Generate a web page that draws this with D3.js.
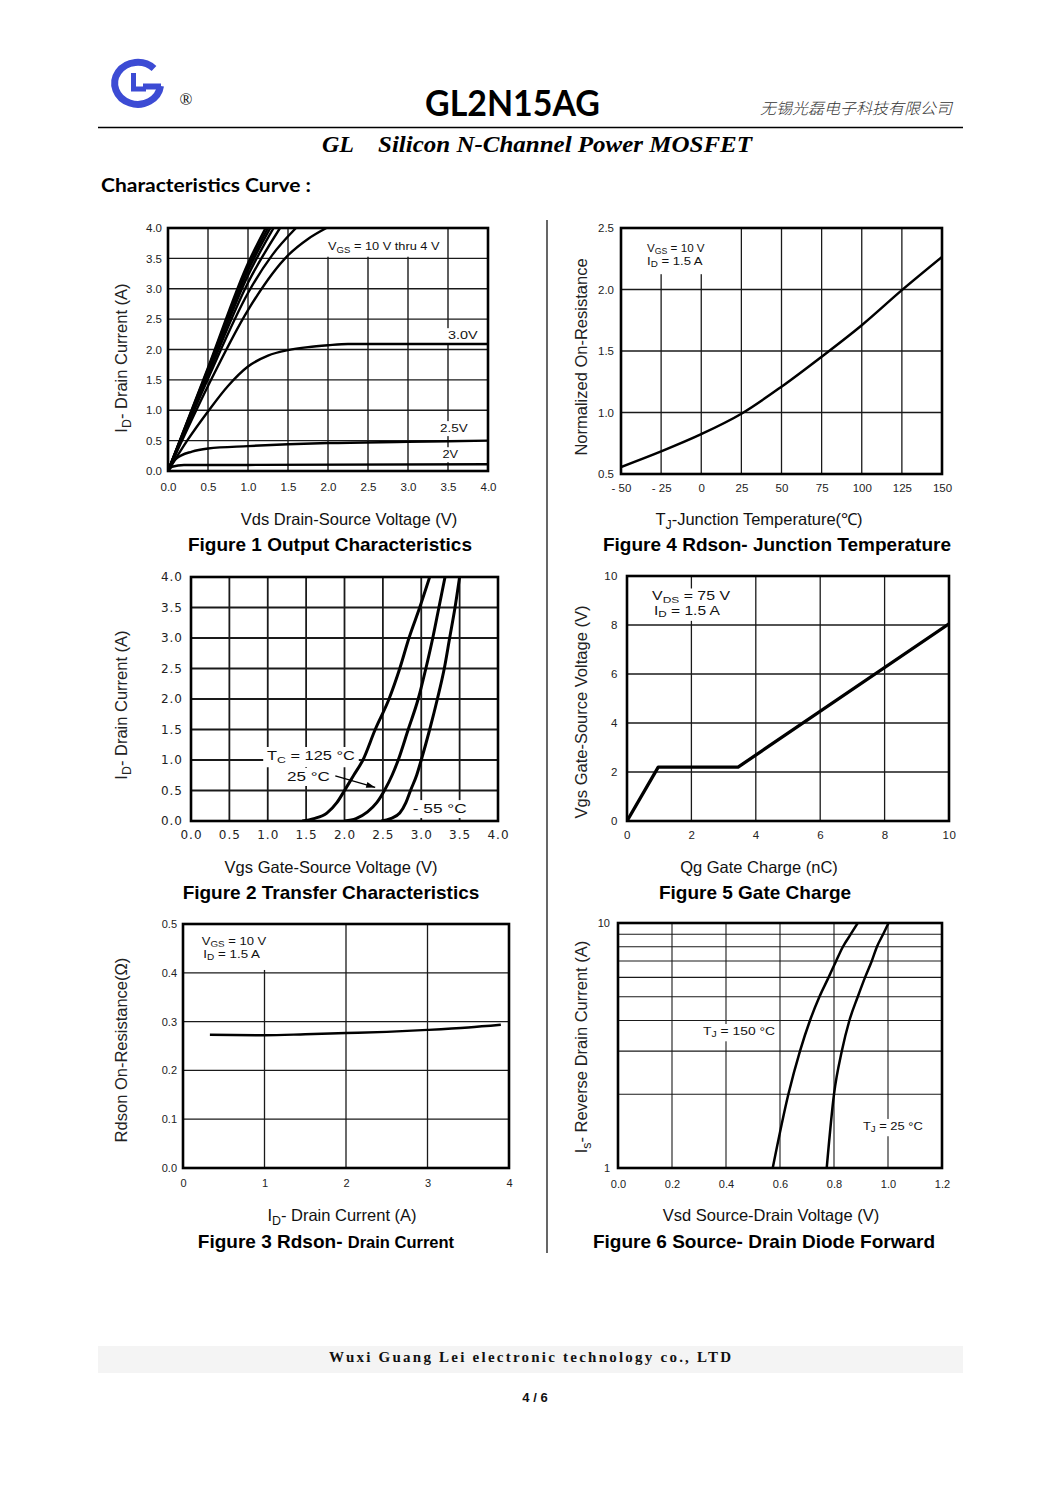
<!DOCTYPE html>
<html><head><meta charset="utf-8">
<script src="https://cdn.jsdelivr.net/npm/d3@7"></script>
<style>body{margin:0;background:#fff}svg{display:block}</style>
</head><body>
<svg id="page" width="1061" height="1500"></svg>
<script>
// ---------------- DATA ----------------
// Figure 1 Output Characteristics (Vds, Id)
const fig1XTicks = [0, 0.5, 1, 1.5, 2, 2.5, 3, 3.5, 4];
const fig1YTicks = [0, 0.5, 1, 1.5, 2, 2.5, 3, 3.5, 4];
const fig1Vgs10 = [[0,0],[0.5,1.7],[1.0,3.42],[1.22,4.0]];
const fig1Vgs9  = [[0,0],[0.5,1.68],[1.0,3.36],[1.25,4.0]];
const fig1Vgs8  = [[0,0],[0.5,1.65],[1.0,3.3],[1.28,4.0]];
const fig1Vgs7  = [[0,0],[0.5,1.62],[1.0,3.22],[1.32,4.0]];
const fig1Vgs6  = [[0,0],[0.5,1.58],[1.0,3.1],[1.4,4.0]];
const fig1Vgs5  = [[0,0],[0.5,1.52],[1.0,2.93],[1.3,3.55],[1.6,4.0]];
const fig1Vgs4  = [[0,0],[0.5,1.4],[1.0,2.65],[1.5,3.55],[1.75,3.82],[1.98,4.0]];
const fig1Vgs3  = [[0,0],[0.25,0.52],[0.5,0.98],[0.75,1.4],[1.0,1.72],[1.25,1.9],[1.5,1.99],[1.75,2.04],[2.0,2.07],[2.25,2.09],[3.0,2.09],[4.0,2.09]];
const fig1Vgs25 = [[0,0],[0.1,0.2],[0.3,0.32],[0.5,0.37],[1.0,0.41],[1.5,0.44],[2.0,0.46],[3.0,0.48],[4.0,0.5]];
const fig1Vgs2  = [[0,0],[0.05,0.07],[0.2,0.1],[1.0,0.1],[4.0,0.11]];

// Figure 4 Rdson vs junction temperature
const fig4XTicks = [-50, -25, 0, 25, 50, 75, 100, 125, 150];
const fig4YTicks = [0.5, 1.0, 1.5, 2.0, 2.5];
const fig4Rdson = [[-50,0.557],[-25,0.684],[0,0.824],[25,0.99],[50,1.21],[75,1.454],[100,1.71],[125,1.995],[150,2.265]];

// Figure 2 Transfer characteristics (Vgs, Id)
const fig2XTicks = [0, 0.5, 1, 1.5, 2, 2.5, 3, 3.5, 4];
const fig2YTicks = [0, 0.5, 1, 1.5, 2, 2.5, 3, 3.5, 4];
const fig2Tc125 = [[1.45,0],[1.6,0.04],[1.77,0.13],[1.9,0.3],[2.0,0.5],[2.12,0.75],[2.24,1.0],[2.4,1.5],[2.58,2.0],[2.72,2.5],[2.84,3.0],[2.98,3.5],[3.11,4.0]];
const fig2Tc25  = [[2.0,0],[2.15,0.04],[2.3,0.15],[2.42,0.3],[2.52,0.5],[2.62,0.75],[2.7,1.0],[2.83,1.5],[2.96,2.0],[3.06,2.5],[3.15,3.0],[3.23,3.5],[3.31,4.0]];
const fig2TcM55 = [[2.48,0],[2.6,0.04],[2.72,0.13],[2.8,0.3],[2.86,0.5],[2.94,0.75],[3.0,1.0],[3.11,1.5],[3.21,2.0],[3.3,2.5],[3.37,3.0],[3.44,3.5],[3.5,4.0]];
const fig2Arrow = [[1.88,0.74],[2.4,0.55]];

// Figure 5 Gate charge
const fig5XTicks = [0, 2, 4, 6, 8, 10];
const fig5YTicks = [0, 2, 4, 6, 8, 10];
const fig5Vgs = [[0,0],[0.97,2.2],[3.45,2.2],[10,8.05]];

// Figure 3 Rdson vs drain current
const fig3XTicks = [0, 1, 2, 3, 4];
const fig3YTicks = [0, 0.1, 0.2, 0.3, 0.4, 0.5];
const fig3Rdson = [[0.33,0.273],[1.0,0.272],[1.5,0.274],[2.0,0.2765],[2.5,0.279],[3.0,0.283],[3.5,0.288],[3.9,0.2935]];

// Figure 6 Source-drain diode forward (Vsd, Is)
const fig6XTicks = [0, 0.2, 0.4, 0.6, 0.8, 1.0, 1.2];
const fig6YTicks = [1, 10];
const fig6YGrid = [2, 3, 4, 5, 6, 7, 8, 9];
const fig6Tj150 = [[0.573,1],[0.631,2],[0.674,3],[0.711,4],[0.746,5],[0.78,6],[0.808,7],[0.833,8],[0.862,9],[0.888,10]];
const fig6Tj25  = [[0.773,1],[0.80,2],[0.829,3],[0.857,4],[0.888,5],[0.915,6],[0.94,7],[0.959,8],[0.982,9],[1.002,10]];

// ---------------- DRAWING ----------------
const SANS = "'Liberation Sans', Arial, sans-serif";
const WIDE = "'DejaVu Sans', 'Liberation Sans', sans-serif";
const svg = d3.select('#page');
svg.append('rect').attr('width', 1061).attr('height', 1500).attr('fill', '#fff');
let clipId = 0;

function rich(g, x, y, parts, o) {
  const size = o.size;
  const lg = g.append('g');
  const bg = o.bg ? lg.append('rect').attr('fill', '#fff') : null;
  const t = lg.append('text').attr('x', x).attr('y', y)
    .attr('font-family', o.family || SANS).attr('font-size', size)
    .attr('font-weight', o.weight || 'normal')
    .attr('fill', o.fill || '#111').attr('text-anchor', o.anchor || 'start');
  if (o.spacing) t.attr('letter-spacing', o.spacing);
  if (o.rotate) t.attr('transform', `rotate(-90,${x},${y})`);
  let shifted = 0;
  parts.forEach(p => {
    if (typeof p === 'string') {
      const s = t.append('tspan').text(p);
      if (shifted) { s.attr('dy', -shifted); shifted = 0; }
    } else {
      const d = size * (o.subShift || 0.25);
      t.append('tspan').attr('font-size', size * 0.75).attr('dy', d).text(p.sub);
      shifted = d;
    }
  });
  const b = t.node().getBBox();
  if (o.width && b.width > 0) {
    const k = o.width / b.width;
    lg.attr('transform', `translate(${x},0) scale(${k},1) translate(${-x},0)`);
  }
  if (bg) {
    const top = o.bgTop != null ? o.bgTop : b.y - 1;
    const extra = o.bgBottom || 0;
    bg.attr('x', b.x - 3).attr('y', top).attr('width', b.width + 6 + (o.bgRight || 0))
      .attr('height', b.y + b.height + 2 + extra - top);
  }
  return t;
}

function panel(o) {
  const g = svg.append('g');
  const x = d3.scaleLinear().domain(o.xDomain).range([o.left, o.right]);
  const y = (o.yLog ? d3.scaleLog() : d3.scaleLinear()).domain(o.yDomain).range([o.bottom, o.top]);
  const gc = o.gridColor || '#1a1a1a';
  g.append('g').selectAll('line').data(o.xGrid).join('line')
    .attr('x1', d => x(d)).attr('x2', d => x(d)).attr('y1', o.top).attr('y2', o.bottom)
    .attr('stroke', gc).attr('stroke-width', o.gridW);
  g.append('g').selectAll('line').data(o.yGrid).join('line')
    .attr('y1', d => y(d)).attr('y2', d => y(d)).attr('x1', o.left).attr('x2', o.right)
    .attr('stroke', gc).attr('stroke-width', o.gridW);
  const ax = g.append('g').attr('transform', `translate(0,${o.bottom})`)
    .call(d3.axisBottom(x).tickValues(o.xTicks).tickFormat(o.xFmt).tickSize(0).tickPadding(o.xPad));
  const ay = g.append('g').attr('transform', `translate(${o.left},0)`)
    .call(d3.axisLeft(y).tickValues(o.yTicks).tickFormat(o.yFmt).tickSize(0).tickPadding(o.yPad));
  [ax, ay].forEach(a => {
    a.select('.domain').remove();
    a.selectAll('text').attr('font-family', o.tickFamily || SANS).attr('font-size', o.tickSize)
      .attr('fill', '#222').attr('letter-spacing', o.tickSpacing || 0);
  });
  const id = 'clip' + (clipId++);
  g.append('clipPath').attr('id', id).append('rect')
    .attr('x', o.left).attr('y', o.top).attr('width', o.right - o.left).attr('height', o.bottom - o.top);
  const ann = g.append('g');
  const curves = g.append('g').attr('clip-path', `url(#${id})`);
  g.append('rect').attr('x', o.left).attr('y', o.top)
    .attr('width', o.right - o.left).attr('height', o.bottom - o.top)
    .attr('fill', 'none').attr('stroke', '#000').attr('stroke-width', o.borderW || 2.6);
  const line = d3.line().x(d => x(d[0])).y(d => y(d[1])).curve(o.curve || d3.curveMonotoneX);
  o.series.forEach(s => {
    curves.append('path').attr('d', line(s)).attr('fill', 'none')
      .attr('stroke', '#000').attr('stroke-width', o.lineW).attr('stroke-linejoin', 'round');
  });
  return { g, ann, x, y, top: o.top };
}

function titles(o) {
  rich(svg, o.yx, o.yy, o.yLabel, { size: 16.5, anchor: 'middle', rotate: true, fill: '#222' });
  rich(svg, o.xx, o.xy, o.xLabel, { size: 16.5, anchor: 'middle', fill: '#111' });
  const t = svg.append('text').attr('x', o.tx).attr('y', o.ty).attr('text-anchor', 'middle')
    .attr('font-family', SANS).attr('font-weight', 'bold').attr('fill', '#000');
  o.title.forEach(p => t.append('tspan').attr('font-size', p[1]).text(p[0]));
}

// ---------- Header ----------
const logo = svg.append('g').attr('fill', 'none').attr('stroke', '#3c4bd4');
logo.append('path').attr('d', 'M 154 68.5 A 23 21 0 1 0 160.5 86').attr('stroke-width', 7);
logo.append('path').attr('d', 'M 161 86.5 L 143 86.5').attr('stroke-width', 6);
logo.append('path').attr('d', 'M 133.5 73 L 133.5 89 L 146 89').attr('stroke-width', 5);
svg.append('text').attr('x', 186).attr('y', 105).attr('text-anchor', 'middle')
  .attr('font-family', "'Liberation Serif', serif").attr('font-size', 17).attr('fill', '#111').text('®');
svg.append('text').attr('x', 425).attr('y', 116).attr('font-family', "Lato, 'Open Sans', sans-serif")
  .attr('font-weight', 'bold').attr('font-size', 37).attr('fill', '#000')
  .attr('textLength', 175).attr('lengthAdjust', 'spacingAndGlyphs').text('GL2N15AG');
svg.append('text').attr('x', 760).attr('y', 114).attr('font-family', "'Noto Sans CJK SC', sans-serif")
  .attr('font-size', 15.5).attr('font-style', 'italic').attr('font-weight', 300).attr('fill', '#333')
  .attr('textLength', 192).attr('lengthAdjust', 'spacingAndGlyphs').text('无锡光磊电子科技有限公司');
svg.append('line').attr('x1', 98).attr('x2', 963).attr('y1', 127.5).attr('y2', 127.5)
  .attr('stroke', '#000').attr('stroke-width', 1.6);
svg.append('text').attr('x', 322).attr('y', 152).attr('font-family', "'Liberation Serif', serif")
  .attr('font-weight', 'bold').attr('font-style', 'italic').attr('font-size', 24).attr('fill', '#000').text('GL');
svg.append('text').attr('x', 378).attr('y', 152).attr('font-family', "'Liberation Serif', serif")
  .attr('font-weight', 'bold').attr('font-style', 'italic').attr('font-size', 24).attr('fill', '#000')
  .attr('textLength', 374).attr('lengthAdjust', 'spacingAndGlyphs').text('Silicon N-Channel Power MOSFET');
svg.append('text').attr('x', 101).attr('y', 192).attr('font-family', "Lato, 'Open Sans', sans-serif")
  .attr('font-weight', 'bold').attr('font-size', 19).attr('fill', '#000')
  .attr('textLength', 210).attr('lengthAdjust', 'spacingAndGlyphs').text('Characteristics Curve :');

// divider
svg.append('line').attr('x1', 547).attr('x2', 547).attr('y1', 220).attr('y2', 1253)
  .attr('stroke', '#000').attr('stroke-width', 1.2);

// ---------- Figure 1 ----------
const f1 = panel({
  left: 168, right: 488, top: 228, bottom: 471, xDomain: [0, 4], yDomain: [0, 4],
  xGrid: fig1XTicks.slice(1, -1), yGrid: fig1YTicks.slice(1, -1), gridW: 1.4,
  xTicks: fig1XTicks, yTicks: fig1YTicks, xFmt: d3.format('.1f'), yFmt: d3.format('.1f'),
  xPad: 12, yPad: 6, tickSize: 11.5, lineW: 2.4,
  series: [fig1Vgs10, fig1Vgs9, fig1Vgs8, fig1Vgs7, fig1Vgs6, fig1Vgs5, fig1Vgs4, fig1Vgs3, fig1Vgs25, fig1Vgs2]
});
rich(f1.ann, f1.x(2.0), f1.y(3.64), ['V', { sub: 'GS' }, ' = 10 V thru 4 V'], { size: 11.5, bg: true, width: 112, bgTop: f1.top + 1 });
rich(f1.ann, f1.x(3.5), f1.y(2.17), ['3.0V'], { size: 11.5, bg: true, width: 30 });
rich(f1.ann, f1.x(3.4), f1.y(0.64), ['2.5V'], { size: 11.5, bg: true, width: 28 });
rich(f1.ann, f1.x(3.43), f1.y(0.21), ['2V'], { size: 11.5, bg: true, width: 16 });
titles({ yx: 127, yy: 358, yLabel: ['I', { sub: 'D' }, '- Drain Current (A)'],
  xx: 349, xy: 525, xLabel: ['Vds Drain-Source Voltage (V)'],
  tx: 330, ty: 551, title: [['Figure 1 Output Characteristics', 19]] });

// ---------- Figure 4 ----------
const f4 = panel({
  left: 621, right: 942, top: 228, bottom: 474, xDomain: [-50, 150], yDomain: [0.5, 2.5],
  xGrid: fig4XTicks.slice(1, -1), yGrid: fig4YTicks.slice(1, -1), gridW: 1.3,
  xTicks: fig4XTicks, yTicks: fig4YTicks,
  xFmt: d => d < 0 ? '- ' + Math.abs(d) : String(d), yFmt: d3.format('.1f'),
  xPad: 10, yPad: 7, tickSize: 11.5, lineW: 2.5, series: [fig4Rdson]
});
rich(f4.ann, f4.x(-33.8), f4.y(2.305), ['V', { sub: 'GS' }, ' = 10 V'], { size: 11.5, bg: true, subShift: 0.2, width: 58, bgTop: f4.top + 1 });
rich(f4.ann, f4.x(-33.8), f4.y(2.2), ['I', { sub: 'D' }, ' = 1.5 A'], { size: 11.5, bg: true, subShift: 0.2, width: 56, bgRight: 3, bgBottom: 3 });
titles({ yx: 587, yy: 357, yLabel: ['Normalized On-Resistance'],
  xx: 759, xy: 525, xLabel: ['T', { sub: 'J' }, '-Junction Temperature(℃)'],
  tx: 777, ty: 551, title: [['Figure 4 Rdson- Junction Temperature', 19]] });

// ---------- Figure 2 ----------
const f2 = panel({
  left: 191, right: 498, top: 577, bottom: 821, xDomain: [0, 4], yDomain: [0, 4],
  xGrid: fig2XTicks.slice(1, -1), yGrid: fig2YTicks.slice(1, -1), gridW: 1.8,
  xTicks: fig2XTicks, yTicks: fig2YTicks, xFmt: d3.format('.1f'), yFmt: d3.format('.1f'),
  xPad: 9, yPad: 8, tickSize: 12, tickFamily: WIDE, tickSpacing: 1, lineW: 3,
  series: [fig2Tc125, fig2Tc25, fig2TcM55]
});
rich(f2.ann, f2.x(0.99), f2.y(1.0), ['T', { sub: 'C' }, ' = 125 °C'], { size: 13, bg: true, width: 88 });
rich(f2.ann, f2.x(1.25), f2.y(0.656), ['25 °C'], { size: 13, bg: true, width: 43 });
rich(f2.ann, f2.x(2.89), f2.y(0.13), ['- 55 °C'], { size: 13, bg: true, width: 54 });
{
  const [p0, p1] = fig2Arrow.map(d => [f2.x(d[0]), f2.y(d[1])]);
  const ang = Math.atan2(p1[1] - p0[1], p1[0] - p0[0]);
  f2.ann.append('line').attr('x1', p0[0]).attr('y1', p0[1]).attr('x2', p1[0]).attr('y2', p1[1])
    .attr('stroke', '#000').attr('stroke-width', 1.3);
  const L = 9, W = 3;
  const pts = [[p1[0], p1[1]],
    [p1[0] - L * Math.cos(ang) + W * Math.sin(ang), p1[1] - L * Math.sin(ang) - W * Math.cos(ang)],
    [p1[0] - L * Math.cos(ang) - W * Math.sin(ang), p1[1] - L * Math.sin(ang) + W * Math.cos(ang)]];
  f2.ann.append('polygon').attr('points', pts.map(p => p.join(',')).join(' ')).attr('fill', '#000');
}
titles({ yx: 127, yy: 705, yLabel: ['I', { sub: 'D' }, '- Drain Current (A)'],
  xx: 331, xy: 873, xLabel: ['Vgs Gate-Source Voltage (V)'],
  tx: 331, ty: 899, title: [['Figure 2 Transfer Characteristics', 19]] });

// ---------- Figure 5 ----------
const f5 = panel({
  left: 627, right: 949, top: 576, bottom: 821, xDomain: [0, 10], yDomain: [0, 10],
  xGrid: fig5XTicks.slice(1, -1), yGrid: fig5YTicks.slice(1, -1), gridW: 1.3,
  xTicks: fig5XTicks, yTicks: fig5YTicks, xFmt: d3.format('d'), yFmt: d3.format('d'),
  xPad: 10, yPad: 9, tickSize: 11.5, tickSpacing: 0.5, lineW: 3.3, curve: d3.curveLinear,
  series: [fig5Vgs]
});
rich(f5.ann, f5.x(0.78), f5.y(9.0), ['V', { sub: 'DS' }, ' = 75 V'], { size: 12, bg: true, subShift: 0.18, width: 78 });
rich(f5.ann, f5.x(0.84), f5.y(8.42), ['I', { sub: 'D' }, ' = 1.5 A'], { size: 12, bg: true, subShift: 0.18, width: 66 });
titles({ yx: 587, yy: 712, yLabel: ['Vgs Gate-Source Voltage (V)'],
  xx: 759, xy: 873, xLabel: ['Qg Gate Charge (nC)'],
  tx: 755, ty: 899, title: [['Figure 5 Gate Charge', 19]] });

// ---------- Figure 3 ----------
const f3 = panel({
  left: 183, right: 509, top: 924, bottom: 1168, xDomain: [0, 4], yDomain: [0, 0.5],
  xGrid: fig3XTicks.slice(1, -1), yGrid: fig3YTicks.slice(1, -1), gridW: 1.3,
  xTicks: fig3XTicks, yTicks: fig3YTicks, xFmt: d3.format('d'), yFmt: d3.format('.1f'),
  xPad: 11, yPad: 6, tickSize: 11, lineW: 2.4, series: [fig3Rdson]
});
rich(f3.ann, f3.x(0.23), f3.y(0.4575), ['V', { sub: 'GS' }, ' = 10 V'], { size: 11.5, bg: true, subShift: 0.2, width: 65, bgTop: f3.top + 1 });
rich(f3.ann, f3.x(0.25), f3.y(0.431), ['I', { sub: 'D' }, ' = 1.5 A'], { size: 11.5, bg: true, subShift: 0.2, width: 57, bgRight: 6, bgBottom: 6 });
titles({ yx: 127, yy: 1050, yLabel: ['Rdson On-Resistance(Ω)'],
  xx: 342, xy: 1221, xLabel: ['I', { sub: 'D' }, '- Drain Current (A)'],
  tx: 326, ty: 1248, title: [['Figure 3 Rdson- ', 19], ['Drain Current', 16.5]] });

// ---------- Figure 6 ----------
const f6 = panel({
  left: 618, right: 942, top: 923, bottom: 1168, xDomain: [0, 1.2], yDomain: [1, 10], yLog: true,
  xGrid: fig6XTicks.slice(1, -1), yGrid: fig6YGrid, gridW: 1.1,
  xTicks: fig6XTicks, yTicks: fig6YTicks, xFmt: d3.format('.1f'), yFmt: d3.format('d'),
  xPad: 12, yPad: 8, tickSize: 11, lineW: 2.5, series: [fig6Tj150, fig6Tj25]
});
rich(f6.ann, f6.x(0.315), f6.y(3.49), ['T', { sub: 'J' }, ' = 150 °C'], { size: 11.5, bg: true, subShift: 0.2, width: 72 });
rich(f6.ann, f6.x(0.907), f6.y(1.43), ['T', { sub: 'J' }, ' = 25 °C'], { size: 11.5, bg: true, subShift: 0.2, width: 60 });
titles({ yx: 587, yy: 1047, yLabel: ['I', { sub: 's' }, '- Reverse Drain Current (A)'],
  xx: 771, xy: 1221, xLabel: ['Vsd Source-Drain Voltage (V)'],
  tx: 764, ty: 1248, title: [['Figure 6 Source- Drain Diode Forward', 19]] });

// ---------- Footer ----------
svg.append('rect').attr('x', 98).attr('y', 1346).attr('width', 865).attr('height', 27).attr('fill', '#f4f4f4');
svg.append('text').attr('x', 329).attr('y', 1362).attr('font-family', "'Liberation Serif', serif")
  .attr('font-weight', 'bold').attr('font-size', 15).attr('fill', '#111')
  .attr('textLength', 402).attr('lengthAdjust', 'spacing')
  .text('Wuxi Guang Lei electronic technology co., LTD');
svg.append('text').attr('x', 535).attr('y', 1402).attr('text-anchor', 'middle')
  .attr('font-family', "'Liberation Sans', sans-serif")
  .attr('font-weight', 'bold').attr('font-size', 13).attr('fill', '#111').text('4 / 6');
</script>
</body></html>
